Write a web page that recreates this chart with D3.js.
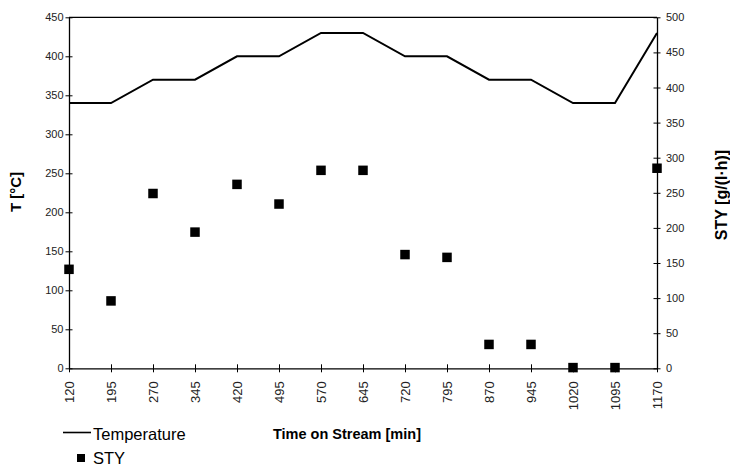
<!DOCTYPE html>
<html>
<head>
<meta charset="utf-8">
<script src="https://cdn.jsdelivr.net/npm/d3@7"></script>
<style>
  html, body { margin: 0; padding: 0; background: #fff; }
  svg { display: block; font-family: "Liberation Sans", Arial, sans-serif; }
</style>
</head>
<body>
<svg id="chart" width="730" height="466"></svg>
<script>
// Time on stream (min) categories
const times = ["120", "195", "270", "345", "420", "495", "570", "645", "720", "795", "870", "945", "1020", "1095", "1170"];
// Reactor temperature (°C)
const temperature = [340, 340, 370, 370, 400, 400, 430, 430, 400, 400, 370, 370, 340, 340, 430];
// Space-time yield, g/(l·h)
const sty = [141, 96, 249, 194, 262, 234, 282, 282, 162, 158, 34, 34, 1, 1, 285];
// Axis tick values
const leftTicks = [0, 50, 100, 150, 200, 250, 300, 350, 400, 450];
const rightTicks = [0, 50, 100, 150, 200, 250, 300, 350, 400, 450, 500];

const svg = d3.select("#chart");
const plotL = 69, plotR = 657, plotT = 17.3, plotB = 368.3;

const x = d3.scalePoint().domain(times).range([plotL, plotR]);
const yT = d3.scaleLinear().domain([0, 450]).range([plotB, plotT]);
const yS = d3.scaleLinear().domain([0, 500]).range([plotB, plotT]);

const ink = "#000";

// top frame line
svg.append("line")
  .attr("x1", plotL).attr("x2", plotR).attr("y1", plotT).attr("y2", plotT)
  .attr("stroke", ink).attr("stroke-width", 1.3);

// left axis
const gL = svg.append("g").attr("transform", `translate(${plotL},0)`)
  .call(d3.axisLeft(yT).tickValues(leftTicks).tickSize(0).tickPadding(6));
gL.selectAll(".tick line").attr("x1", -3.5).attr("x2", 3.5).attr("stroke", ink);
gL.select(".domain").attr("stroke", ink).attr("stroke-width", 1.3);
gL.selectAll("text").attr("font-size", 11).attr("fill", "#222").attr("x", -5.5);

// right axis
const gR = svg.append("g").attr("transform", `translate(${plotR},0)`)
  .call(d3.axisRight(yS).tickValues(rightTicks).tickSize(0).tickPadding(6));
gR.selectAll(".tick line").attr("x1", -3.5).attr("x2", 3.5).attr("stroke", ink);
gR.select(".domain").attr("stroke", ink).attr("stroke-width", 1.3);
gR.selectAll("text").attr("font-size", 11).attr("fill", "#222").attr("x", 9);

// bottom axis with vertical labels
const gB = svg.append("g").attr("transform", `translate(0,${plotB})`)
  .call(d3.axisBottom(x).tickSize(0));
gB.selectAll(".tick line").attr("y1", -4).attr("y2", 4).attr("stroke", ink);
gB.select(".domain").attr("stroke", ink).attr("stroke-width", 1.3);
gB.selectAll("text")
  .attr("font-size", 13).attr("fill", "#222")
  .attr("text-anchor", "end")
  .attr("dy", "0.35em")
  .attr("transform", "translate(0,13) rotate(-90)")
  .attr("x", 0).attr("y", 0);

// temperature line
svg.append("path")
  .datum(times.map((t, i) => [t, temperature[i]]))
  .attr("fill", "none").attr("stroke", ink).attr("stroke-width", 2)
  .attr("d", d3.line().x(d => x(d[0])).y(d => yT(d[1])));

// STY markers
const ms = 9.5;
svg.append("g").selectAll("rect")
  .data(times.map((t, i) => [t, sty[i]]))
  .join("rect")
  .attr("x", d => x(d[0]) - ms / 2)
  .attr("y", d => yS(d[1]) - ms / 2)
  .attr("width", ms).attr("height", ms)
  .attr("fill", ink);

// axis titles
svg.append("text")
  .attr("transform", "translate(21,192) rotate(-90)")
  .attr("text-anchor", "middle")
  .attr("font-size", 15).attr("font-weight", "bold")
  .text("T [°C]");

svg.append("text")
  .attr("transform", "translate(727,195) rotate(-90)")
  .attr("text-anchor", "middle")
  .attr("font-size", 16).attr("font-weight", "bold")
  .text("STY [g/(l·h)]");

svg.append("text")
  .attr("x", 347).attr("y", 439)
  .attr("text-anchor", "middle")
  .attr("font-size", 14.5).attr("font-weight", "bold")
  .text("Time on Stream [min]");

// legend
const lg = svg.append("g");
lg.append("line")
  .attr("x1", 63).attr("x2", 91).attr("y1", 432.5).attr("y2", 432.5)
  .attr("stroke", ink).attr("stroke-width", 1.6);
lg.append("text").attr("x", 93).attr("y", 440)
  .attr("font-size", 16.5).text("Temperature");
lg.append("rect")
  .attr("x", 77).attr("y", 454).attr("width", 8).attr("height", 8)
  .attr("fill", ink);
lg.append("text").attr("x", 93).attr("y", 464)
  .attr("font-size", 16.5).text("STY");
</script>
</body>
</html>
